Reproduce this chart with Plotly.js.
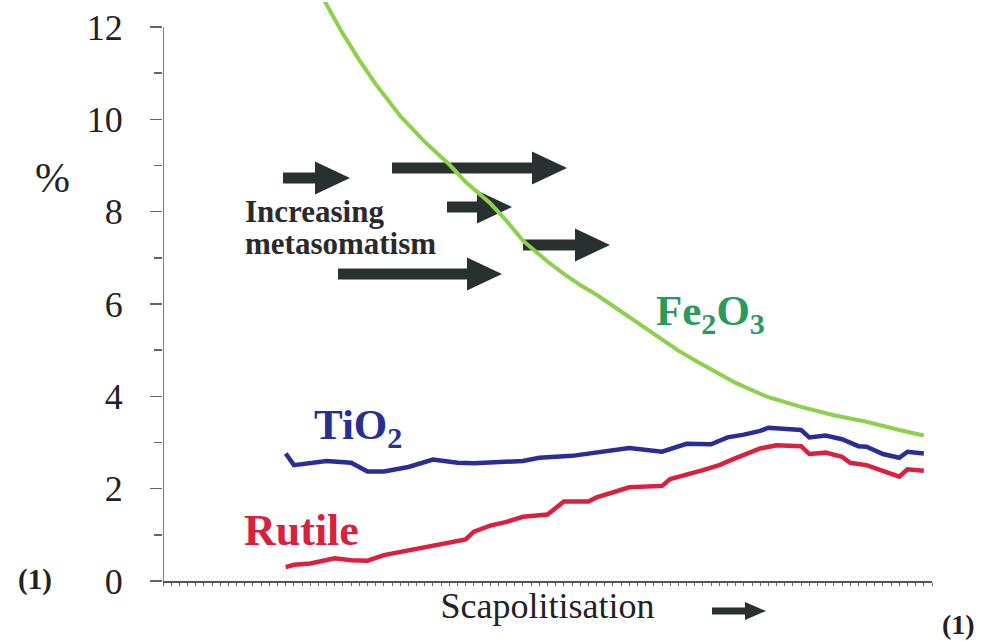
<!DOCTYPE html>
<html>
<head>
<meta charset="utf-8">
<script src="https://cdn.plot.ly/plotly-3.0.1.min.js"></script>
<style>html,body{margin:0;padding:0;background:#fff;}#chart{width:983px;height:641px;}</style>
</head>
<body>
<div id="chart"></div>
<script>
// ---- data (x = position along the scapolitisation sequence, y = %) ----
var xTiO2 = [15,16,20,23,25,27,30,33,36,38,44,46,50,54,57,61,62,64,67,69,71,73,74,78,79,81,83,85,86,88,90,91,93];
var yTiO2 = [2.76,2.51,2.60,2.56,2.37,2.37,2.47,2.63,2.56,2.55,2.60,2.67,2.71,2.81,2.88,2.80,2.85,2.97,2.96,3.11,3.17,3.25,3.32,3.27,3.11,3.15,3.07,2.92,2.91,2.75,2.67,2.80,2.76];

var xRutile = [15,16,18,21,23,25,27,30,33,37,38,40,42,44,45,47,49,52,53,57,61,62,66,68,70,71,73,75,78,79,81,83,84,86,88,90,91,93];
var yRutile = [0.30,0.35,0.38,0.49,0.45,0.44,0.56,0.66,0.78,0.90,1.07,1.20,1.28,1.39,1.41,1.44,1.72,1.72,1.81,2.03,2.06,2.21,2.40,2.51,2.66,2.73,2.87,2.94,2.92,2.75,2.78,2.69,2.56,2.51,2.39,2.26,2.42,2.39];

var xFe2O3 = [19,22,24,26,29,32,35,37,40,42,44,47,49,51,53,55,57,59,61,63,65,68,70,74,78,82,86,90,93];
var yFe2O3 = [12.8,11.85,11.28,10.76,10.07,9.51,9.02,8.64,8.18,7.80,7.37,6.92,6.65,6.41,6.20,5.96,5.71,5.47,5.22,4.99,4.78,4.48,4.29,3.98,3.77,3.59,3.45,3.27,3.15];

var yTickVals = [0,2,4,6,8,10,12];
var yTickText = ['0','2','4','6','8','10','12'];

// ---- layout geometry helpers (pixel -> paper) ----
var W = 983, H = 641, ML = 163, MR = 51, MT = 2, MB = 60;
var PW = W - ML - MR, PH = H - MT - MB;
function px(x){ return (x - ML) / PW; }
function py(y){ return (H - MB - y) / PH; }

function arrow(x0, xb, x1, yc, shaft, head){
  var s = shaft/2, h = head/2;
  var p = 'M' + px(x0) + ',' + py(yc - s) +
          ' L' + px(xb) + ',' + py(yc - s) +
          ' L' + px(xb) + ',' + py(yc - h) +
          ' L' + px(x1) + ',' + py(yc) +
          ' L' + px(xb) + ',' + py(yc + h) +
          ' L' + px(xb) + ',' + py(yc + s) +
          ' L' + px(x0) + ',' + py(yc + s) + ' Z';
  return {type:'path', xref:'paper', yref:'paper', path:p, fillcolor:'#283030',
          line:{width:0}, layer:'below'};
}

var serif = 'Liberation Serif';

var traces = [
  {x: xFe2O3, y: yFe2O3, mode:'lines', name:'Fe2O3', line:{color:'#8cd04c', width:4}},
  {x: xTiO2, y: yTiO2, mode:'lines', name:'TiO2', line:{color:'#2a2e94', width:4.5}},
  {x: xRutile, y: yRutile, mode:'lines', name:'Rutile', line:{color:'#d9203f', width:4.5}}
];

function ann(text, x, y, size, color, xanchor, bold){
  return {xref:'paper', yref:'paper', x:px(x), y:py(y), text: bold ? '<b>'+text+'</b>' : text,
          showarrow:false, xanchor:xanchor, yanchor:'middle',
          font:{family:serif, size:size, color:color}};
}

var layout = {
  width: W, height: H,
  font: {family: serif},
  margin: {l: ML, r: MR, t: MT, b: MB},
  paper_bgcolor: '#ffffff', plot_bgcolor: 'rgba(0,0,0,0)',
  showlegend: false,
  xaxis: {
    range: [0, 94], showgrid: false, zeroline: false,
    showline: true, linecolor: '#555', linewidth: 1.5,
    ticks: 'outside', tick0: 0, dtick: 1, ticklen: 3, tickwidth: 1, tickcolor: '#666',
    showticklabels: false,
    title: {text: 'Scapolitisation', font: {family: serif, size: 36, color: '#222'}, standoff: 8}
  },
  yaxis: {
    range: [0, 12.54], showgrid: false, zeroline: false, showline: false,
    tickmode: 'array', tickvals: yTickVals, ticktext: yTickText,
    ticks: 'outside', ticklen: 12, tickwidth: 1.5, tickcolor: '#666',
    ticklabelstandoff: 20,
    tickfont: {family: serif, size: 36, color: '#222'},
    minor: {dtick: 1, tick0: 0, ticks: 'outside', ticklen: 8, tickwidth: 1.5, tickcolor: '#666'}
  },
  shapes: [
    {type:'line', xref:'x', yref:'y', x0:0, x1:0, y0:0, y1:12, line:{color:'#555', width:1.5}},
    arrow(283, 315, 350, 178, 11, 33),
    arrow(392, 532, 567, 168, 11, 33),
    arrow(447, 477, 512, 207, 11, 33),
    arrow(523, 575, 610, 245, 11, 33),
    arrow(338, 467, 502, 274, 11, 33),
    arrow(712, 745, 766, 611, 7, 18)
  ],
  annotations: [
    ann('%', 53, 178, 42, '#222', 'center', false),
    ann('Increasing', 243, 211, 31, '#2a2a2a', 'left', true),
    ann('metasomatism', 243, 243, 31, '#2a2a2a', 'left', true),
    ann('TiO<sub>2</sub>', 312, 428, 43, '#27308e', 'left', true),
    ann('Rutile', 242, 530, 44, '#d4233f', 'left', true),
    ann('Fe<sub>2</sub>O<sub>3</sub>', 654, 314, 43, '#2a9a5c', 'left', true),
    ann('(1)', 35, 579, 29, '#222', 'center', true),
    ann('(1)', 958, 624, 28, '#222', 'center', true)
  ]
};

Plotly.newPlot('chart', traces, layout, {displayModeBar: false, staticPlot: true});
</script>
</body>
</html>
